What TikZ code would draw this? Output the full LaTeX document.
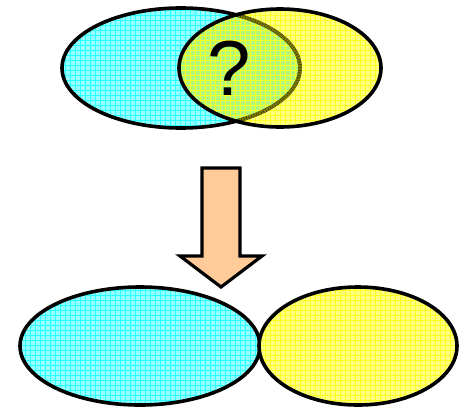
\documentclass[tikz,border=0pt]{standalone}
\usepackage{fontspec}
\setmainfont{Liberation Sans}
\definecolor{cfill}{RGB}{150,255,255}
\definecolor{yfill}{RGB}{255,255,130}
\definecolor{gfill}{RGB}{175,250,125}
\definecolor{olive2}{RGB}{130,125,0}
\definecolor{peach}{RGB}{255,204,153}
\definecolor{cline}{RGB}{40,255,255}
\definecolor{yline}{RGB}{255,255,30}
\begin{document}
\begin{tikzpicture}[x=1pt,y=-1pt,
  outline/.style={draw=black,line width=3.6pt},
  gridc/.style={draw=cline,line width=0.45pt},
  gridy/.style={draw=yline,line width=0.45pt}]
\useasboundingbox (0,0) rectangle (470,407);
% top cyan
\fill[cfill] (181,68) ellipse [x radius=119, y radius=60];
\begin{scope}
\clip (181,68) ellipse [x radius=119, y radius=60];
\draw[gridc,step=5pt] (60,6) grid (302,130);
\end{scope}
% top yellow
\fill[yfill] (280,68) ellipse [x radius=101, y radius=59];
\begin{scope}
\clip (280,68) ellipse [x radius=101, y radius=59];
\draw[gridy,step=5pt] (178,8) grid (382,128);
\end{scope}
% overlap
\begin{scope}
\clip (280,68) ellipse [x radius=101, y radius=59];
\clip (181,68) ellipse [x radius=119, y radius=60];
\fill[gfill] (170,0) rectangle (310,140);
\draw[gridy,step=5pt] (170,0) grid (310,140);
\end{scope}
\draw[outline] (181,68) ellipse [x radius=119, y radius=60];
\begin{scope}
\clip (280,68) ellipse [x radius=99, y radius=57];
\draw[draw=olive2,line width=3.6pt,dash pattern=on 2pt off 0.6pt] (181,68) ellipse [x radius=119, y radius=60];
\end{scope}
\draw[outline] (280,68) ellipse [x radius=101, y radius=59];
\node[font=\fontsize{78}{78}\selectfont,inner sep=0pt] (q) at (229,68) {?};
% arrow
\draw[outline,line width=3.2pt,fill=peach,line join=miter]
  (202,168) -- (240,168) -- (240,256) -- (262,256) -- (221,287) -- (180,256) -- (202,256) -- cycle;
% bottom cyan
\fill[cfill] (140,346) ellipse [x radius=120, y radius=59];
\begin{scope}
\clip (140,346) ellipse [x radius=120, y radius=59];
\draw[gridc,step=5pt] (18,285) grid (262,407);
\end{scope}
\draw[outline] (140,346) ellipse [x radius=120, y radius=59];
% bottom yellow
\fill[yfill] (358,346) ellipse [x radius=99, y radius=59];
\begin{scope}
\clip (358,346) ellipse [x radius=99, y radius=59];
\draw[gridy,step=5pt] (256,285) grid (460,407);
\end{scope}
\draw[outline] (358,346) ellipse [x radius=99, y radius=59];
\end{tikzpicture}
\end{document}
